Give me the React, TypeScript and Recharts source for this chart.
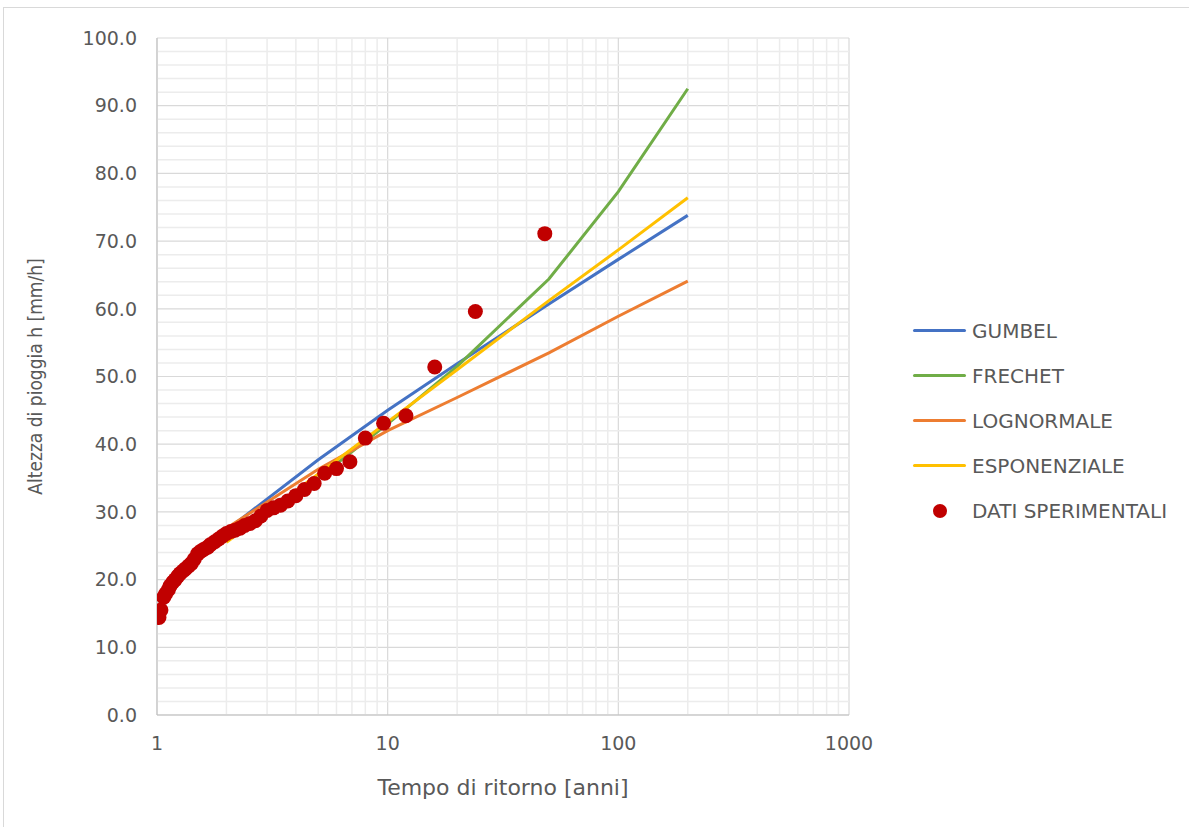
import {
  CartesianGrid,
  ComposedChart,
  Label,
  Line,
  ReferenceLine,
  Scatter,
  XAxis,
  YAxis,
} from "recharts";

// tempi di ritorno delle curve teoriche [anni]
const returnPeriods = [2, 5, 10, 20, 50, 100, 200];
const gumbel = [27.3, 37.7, 45.0, 51.9, 60.7, 67.3, 73.8];
const frechet = [26.0, 35.0, 43.0, 51.5, 64.4, 77.3, 92.5];
const lognormale = [27.6, 36.3, 42.0, 46.9, 53.5, 58.9, 64.1];
const esponenziale = [25.5, 35.6, 43.3, 51.0, 61.2, 68.7, 76.4];

// dati sperimentali (posizione di plotting)
const tObs = [
  48.0, 24.0, 16.0, 12.0, 9.6, 8.0, 6.86, 6.0, 5.33, 4.8, 4.36, 4.0, 3.69, 3.43, 3.2, 3.0,
  2.82, 2.67, 2.53, 2.4, 2.29, 2.18, 2.09, 2.0, 1.92, 1.85, 1.78, 1.71, 1.66, 1.6, 1.55, 1.5,
  1.45, 1.41, 1.37, 1.33, 1.3, 1.26, 1.23, 1.2, 1.17, 1.14, 1.12, 1.09, 1.07, 1.04, 1.02,
];
const hObs = [
  71.1, 59.6, 51.4, 44.2, 43.1, 40.9, 37.4, 36.4, 35.7, 34.2, 33.3, 32.4, 31.6, 31.0, 30.6, 30.2,
  29.4, 28.7, 28.3, 28.0, 27.6, 27.3, 27.1, 26.8, 26.4, 26.0, 25.6, 25.2, 24.8, 24.5, 24.2, 23.8,
  23.0, 22.4, 22.0, 21.6, 21.3, 20.9, 20.5, 20.0, 19.6, 19.1, 18.5, 17.9, 17.4, 15.5, 14.4,
];

const xTicks = [1, 10, 100, 1000];
const xMinor = [2, 3, 4, 5, 6, 7, 8, 9, 20, 30, 40, 50, 60, 70, 80, 90, 200, 300, 400, 500, 600, 700, 800, 900];
const yTicks = [0, 10, 20, 30, 40, 50, 60, 70, 80, 90, 100];
const yMinor = [2, 4, 6, 8, 12, 14, 16, 18, 22, 24, 26, 28, 32, 34, 36, 38, 42, 44, 46, 48, 52, 54, 56, 58, 62, 64, 66, 68, 72, 74, 76, 78, 82, 84, 86, 88, 92, 94, 96, 98];

const series = [
  { name: "GUMBEL", color: "#4472C4", values: gumbel },
  { name: "FRECHET", color: "#70AD47", values: frechet },
  { name: "LOGNORMALE", color: "#ED7D31", values: lognormale },
  { name: "ESPONENZIALE", color: "#FFC000", values: esponenziale },
];
const dotColor = "#C00000";

const font = "'DejaVu Sans', sans-serif";
const textColor = "#595959";
const minorColor = "#ececec";

function LegendBox() {
  return (
    <div style={{ position: "absolute", left: 913, top: 308, fontFamily: font, fontSize: 20, color: textColor }}>
      {series.map((s) => (
        <div key={s.name} style={{ display: "flex", alignItems: "center", height: 45 }}>
          <span style={{ width: 53, height: 3, background: s.color, borderRadius: 2, marginRight: 6 }} />
          <span>{s.name}</span>
        </div>
      ))}
      <div style={{ display: "flex", alignItems: "center", height: 45 }}>
        <span style={{ width: 53, display: "flex", justifyContent: "center", marginRight: 6 }}>
          <span style={{ width: 14, height: 14, borderRadius: 7, background: dotColor }} />
        </span>
        <span>DATI SPERIMENTALI</span>
      </div>
    </div>
  );
}

export default function App() {
  const dati = tObs.map((t, i) => ({ T: t, h: hObs[i] }));
  return (
    <div style={{ position: "absolute", left: 0, top: 0, width: 1189, height: 827, background: "#fff" }}>
      <div
        style={{
          position: "absolute",
          left: 3,
          top: 7,
          width: 1200,
          height: 840,
          border: "1px solid #d9d9d9",
        }}
      />
      <ComposedChart width={1189} height={827} margin={{ top: 38, right: 340, bottom: 0, left: 0 }}>
        {xMinor.map((v) => (
          <ReferenceLine key={"x" + v} x={v} stroke={minorColor} strokeWidth={1.5} />
        ))}
        {yMinor.map((v) => (
          <ReferenceLine key={"y" + v} y={v} stroke={minorColor} strokeWidth={1.5} />
        ))}
        <CartesianGrid stroke="#d9d9d9" strokeWidth={1.2} />
        <XAxis
          dataKey="T"
          type="number"
          scale="log"
          domain={[1, 1000]}
          ticks={xTicks}
          allowDataOverflow
          height={112}
          tickSize={0}
          tickMargin={22}
          stroke="#bfbfbf"
          tick={{ fontSize: 19, fill: textColor, fontFamily: font }}
        >
          <Label
            value="Tempo di ritorno [anni]"
            position="insideBottom"
            offset={32}
            style={{ fontSize: 22, fill: textColor, fontFamily: font }}
          />
        </XAxis>
        <YAxis
          type="number"
          domain={[0, 100]}
          ticks={yTicks}
          width={157}
          tickSize={0}
          tickMargin={20}
          stroke="#bfbfbf"
          tickFormatter={(v) => Number(v).toFixed(1)}
          tick={{ fontSize: 19, fill: textColor, fontFamily: font }}
        >
          <Label
            value="Altezza di pioggia h [mm/h]"
            angle={-90}
            position="insideLeft"
            offset={35}
            style={{
              fontSize: 19,
              fill: textColor,
              fontFamily: "'DejaVu Sans Condensed', 'DejaVu Sans', sans-serif",
              fontStretch: "condensed",
              textAnchor: "middle",
            }}
          />
        </YAxis>
        {series.map((s) => (
          <Line
            key={s.name}
            name={s.name}
            data={returnPeriods.map((t, i) => ({ T: t, h: s.values[i] }))}
            dataKey="h"
            type="linear"
            stroke={s.color}
            strokeWidth={3}
            dot={false}
            activeDot={false}
            isAnimationActive={false}
          />
        ))}
        <Scatter
          name="DATI SPERIMENTALI"
          data={dati}
          dataKey="h"
          fill={dotColor}
          isAnimationActive={false}
          shape={(p: any) => <circle cx={p.cx} cy={p.cy} r={7.5} fill={dotColor} />}
        />
      </ComposedChart>
      <LegendBox />
    </div>
  );
}
